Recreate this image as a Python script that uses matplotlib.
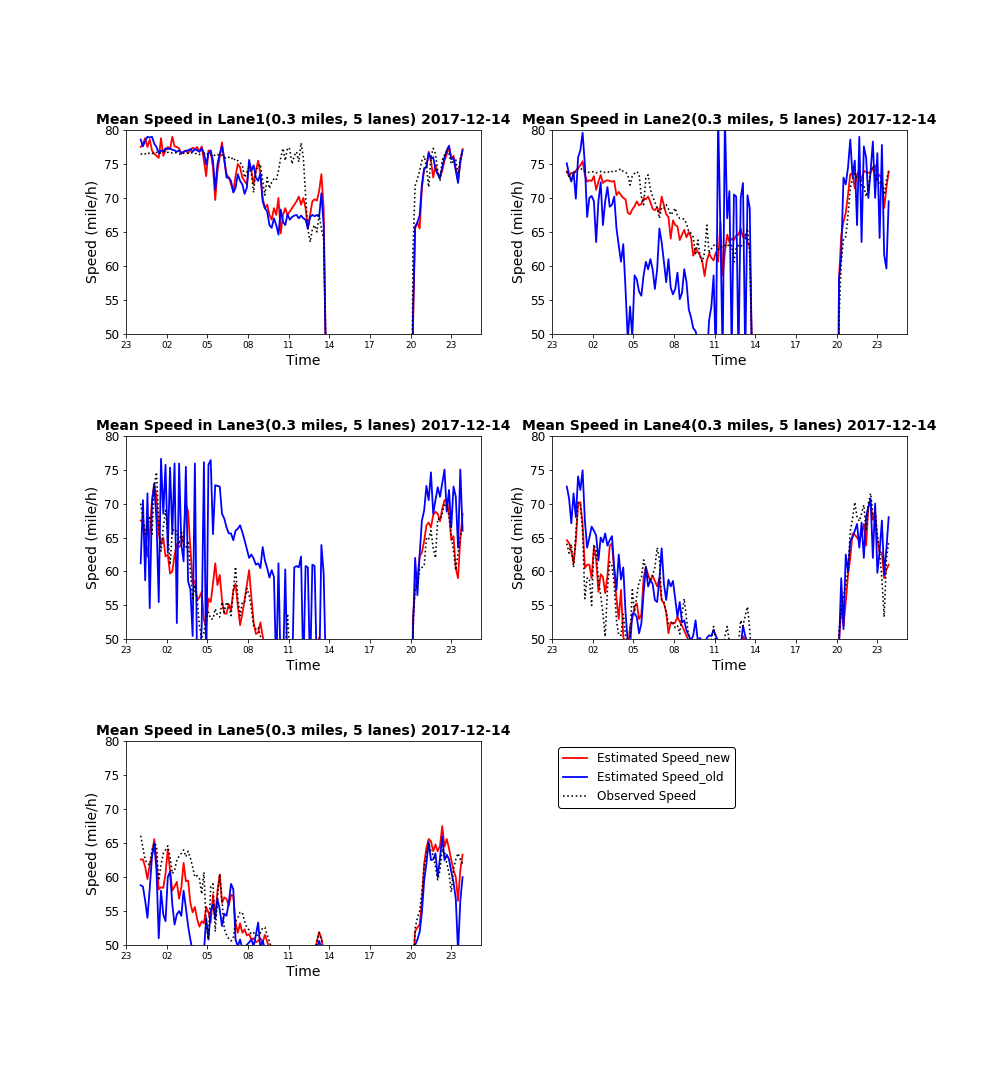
"""
Mean speed per lane on 2017-12-14: estimated (new / old model) vs observed.
Values read off the original figure at 10 minute steps.
"""

import numpy as np
import matplotlib
matplotlib.use("Agg")
import matplotlib.pyplot as plt

OUTPUT_PATH = "out.png"

# time of day in hours: morning block 00:05-13:55, evening block 20:00-23:50
times_am = 5 / 60.0 + np.arange(84) / 6.0
times_pm = 20 + np.arange(24) / 6.0

tick_pos = [-1, 2, 5, 8, 11, 14, 17, 20, 23]
tick_labels = ["23", "02", "05", "08", "11", "14", "17", "20", "23"]

# ---- Lane 1 ----
lane1_new_am = [77.5, 78.0, 78.8, 77.5, 78.6, 77.0, 76.5, 76.2, 75.9, 78.8,
                76.2, 77.0, 77.5, 77.2, 79.0, 77.6, 77.5, 77.3, 76.5, 76.8,
                77.0, 76.6, 77.0, 77.4, 77.2, 77.5, 76.8, 77.6, 75.5, 73.2,
                77.0, 76.8, 74.5, 69.7, 74.0, 76.0, 78.2, 75.5, 73.5, 73.0,
                72.0, 71.0, 73.2, 75.0, 74.5, 73.0, 72.5, 72.0, 75.0, 74.0,
                72.0, 74.0, 75.5, 73.5, 70.0, 68.5, 69.0, 67.5, 66.8, 68.5,
                67.5, 70.0, 64.8, 67.5, 68.5, 67.5, 68.0, 68.5, 69.0, 69.5,
                70.2, 69.0, 70.0, 68.5, 65.5, 67.5, 69.5, 69.8, 69.6, 71.0,
                73.5, 68.5, 46.0, 0.0]
lane1_old_am = [78.6, 77.6, 78.4, 79.0, 78.9, 79.0, 78.0, 77.5, 76.6, 77.0,
                76.8, 77.3, 77.2, 77.3, 77.1, 77.0, 76.8, 77.0, 76.6, 76.8,
                76.9, 77.0, 77.2, 76.8, 77.2, 77.0, 76.8, 77.3, 76.6, 74.9,
                76.5, 77.0, 75.5, 71.2, 75.0, 76.5, 77.6, 75.8, 73.0, 73.0,
                72.5, 70.8, 71.5, 73.5, 72.5, 72.0, 70.6, 71.5, 75.6, 74.0,
                74.8, 73.0, 72.5, 73.6, 69.5, 68.5, 68.0, 66.0, 65.6, 67.0,
                66.0, 64.6, 68.3, 66.5, 66.0, 67.6, 66.8, 67.2, 67.4, 67.5,
                67.0, 67.4, 67.0, 66.8, 65.5, 67.2, 67.5, 67.3, 67.5, 67.2,
                70.7, 66.0, 46.0, 0.0]
lane1_obs_am = [76.4, 76.6, 76.5, 76.4, 76.7, 76.6, 76.5, 76.7, 76.8, 76.6,
                76.8, 76.9, 76.7, 76.8, 76.6, 76.7, 76.6, 76.5, 76.4, 76.6,
                76.5, 76.6, 76.7, 76.6, 76.5, 76.6, 76.4, 76.5, 76.6, 76.4,
                76.5, 76.3, 76.5, 76.2, 76.4, 76.2, 76.3, 76.0, 75.8, 76.0,
                75.7, 76.0, 75.4, 75.5, 75.2, 74.8, 73.0, 73.8, 74.5, 73.5,
                70.8, 74.2, 74.5, 75.0, 72.5, 70.4, 73.0, 71.4, 72.3, 72.8,
                72.6, 74.0, 75.9, 77.3, 75.5, 77.4, 77.2, 75.0, 76.2, 76.8,
                75.3, 78.1, 76.0, 70.4, 65.5, 63.5, 65.4, 66.0, 65.0, 67.5,
                65.5, 64.0, 47.0, 0.0]
lane1_new_pm = [0.0, 50.0, 65.5, 66.4, 65.5, 71.5, 74.2, 74.6, 76.8, 75.5, 73.0, 74.8,
                73.6, 73.2, 74.0, 75.5, 76.4, 77.5, 75.8, 76.2, 74.3, 72.6, 75.2, 77.2]
lane1_old_pm = [0.0, 52.0, 65.8, 66.4, 67.4, 72.0, 74.4, 74.5, 76.6, 75.8, 76.0, 74.2,
                73.5, 72.9, 74.5, 76.0, 77.0, 77.7, 75.7, 75.9, 74.0, 72.2, 75.5, 77.0]
lane1_obs_pm = [0.0, 62.0, 71.8, 72.8, 74.0, 75.5, 76.2, 74.6, 71.6, 76.0, 77.3, 76.5,
                74.0, 72.5, 75.6, 76.3, 76.9, 76.5, 75.0, 75.4, 75.6, 73.5, 75.8, 76.8]

# ---- Lane 2 ----
lane2_new_am = [73.9, 73.2, 73.7, 73.6, 74.0, 74.4, 74.8, 75.4, 73.4, 72.4,
                72.6, 72.5, 73.2, 71.2, 72.4, 73.4, 72.2, 72.5, 72.6, 72.5,
                72.4, 72.5, 70.4, 70.9, 70.4, 70.0, 69.8, 67.8, 67.6, 68.3,
                68.8, 69.5, 68.9, 69.1, 70.0, 69.8, 70.2, 69.4, 68.4, 68.2,
                68.6, 67.8, 70.2, 68.9, 67.6, 67.2, 64.0, 66.7, 66.0, 65.8,
                63.8, 64.6, 65.3, 64.2, 65.0, 64.2, 61.5, 62.6, 62.1, 61.5,
                60.6, 58.5, 60.8, 61.8, 61.2, 60.8, 62.0, 60.6, 66.5, 58.6,
                62.0, 64.6, 63.5, 64.0, 63.8, 64.5, 64.6, 65.5, 64.2, 64.6,
                63.5, 62.8, 47.0, 0.0]
lane2_old_am = [75.1, 73.5, 72.4, 73.8, 69.9, 76.0, 77.0, 79.6, 74.9, 67.2,
                70.0, 70.3, 69.5, 63.5, 69.5, 72.3, 66.0, 69.5, 71.6, 68.7,
                69.0, 70.2, 65.5, 63.0, 60.6, 63.2, 56.6, 49.0, 54.0, 49.5,
                58.6, 58.0, 56.2, 55.6, 58.6, 60.6, 59.5, 61.0, 59.5, 56.6,
                59.5, 65.5, 63.5, 60.6, 57.6, 61.0, 56.8, 55.8, 56.6, 59.0,
                55.1, 56.0, 59.5, 57.6, 53.6, 52.4, 50.8, 50.4, 49.0, 46.5,
                45.0, 44.0, 46.0, 52.0, 54.0, 58.6, 46.0, 82.0, 65.5, 46.0,
                82.0, 67.0, 71.0, 47.0, 70.5, 70.2, 46.0, 70.0, 72.2, 46.0,
                70.4, 68.5, 45.0, 0.0]
lane2_obs_am = [73.9, 73.1, 72.7, 73.5, 74.0, 74.3, 74.4, 74.1, 73.9, 73.7,
                73.8, 73.8, 73.9, 73.7, 73.8, 73.9, 73.7, 73.8, 73.9, 73.7,
                73.9, 73.8, 74.0, 74.1, 74.3, 73.9, 73.8, 73.4, 71.9, 73.2,
                73.6, 73.9, 73.5, 70.2, 69.0, 72.9, 73.4, 71.3, 70.2, 69.4,
                68.5, 67.0, 68.6, 68.5, 69.0, 68.4, 67.5, 67.9, 68.5, 67.3,
                67.0, 66.9, 66.9, 66.2, 65.0, 64.8, 64.2, 61.6, 63.8, 61.5,
                60.6, 62.0, 66.0, 61.8, 62.5, 63.0, 63.2, 62.4, 62.8, 62.7,
                63.0, 63.2, 62.8, 63.0, 60.6, 62.7, 63.0, 62.8, 63.2, 64.0,
                65.5, 61.6, 47.0, 0.0]
lane2_new_pm = [0.0, 58.0, 64.5, 66.5, 67.8, 70.5, 73.5, 73.6, 71.4, 73.5, 74.0, 72.5,
                74.0, 73.8, 73.7, 73.8, 74.3, 74.8, 73.0, 73.4, 72.8, 68.5, 71.5, 73.9]
lane2_old_pm = [0.0, 58.0, 61.6, 73.0, 72.0, 74.5, 78.6, 73.2, 75.5, 66.0, 79.0, 63.5,
                77.6, 76.0, 70.0, 74.0, 78.3, 70.0, 76.6, 64.1, 77.8, 61.6, 59.6, 69.5]
lane2_obs_pm = [0.0, 52.0, 60.5, 64.0, 64.3, 67.5, 71.5, 72.8, 73.6, 72.8, 73.0, 71.8,
                71.8, 70.2, 71.5, 73.8, 74.7, 73.3, 72.6, 72.0, 72.5, 70.5, 72.6, 73.9]

# ---- Lane 3 ----
lane3_new_am = [67.5, 67.3, 65.1, 62.2, 65.5, 70.5, 73.0, 71.0, 65.5, 64.0,
                65.0, 62.2, 62.5, 59.7, 60.0, 62.4, 64.0, 63.6, 64.0, 65.2,
                70.0, 68.8, 63.5, 58.2, 58.6, 55.8, 56.2, 57.0, 52.8, 52.0,
                56.0, 55.5, 58.2, 61.2, 58.0, 59.5, 55.8, 53.8, 53.8, 55.2,
                54.3, 57.2, 58.2, 55.0, 52.1, 53.8, 55.8, 58.0, 60.2, 56.2,
                52.5, 50.8, 51.0, 52.5, 50.5, 49.0, 48.0, 47.5, 47.0, 47.5,
                47.0, 46.5, 47.0, 46.5, 47.0, 47.5, 47.0, 46.5, 47.0, 47.0,
                46.5, 47.0, 47.0, 46.5, 47.0, 47.5, 47.0, 47.5, 48.5, 50.3,
                48.5, 47.0, 45.0, 0.0]
lane3_old_am = [61.2, 70.5, 58.7, 71.5, 54.6, 70.0, 72.9, 67.5, 55.5, 76.6,
                68.5, 75.7, 62.8, 75.3, 65.5, 75.9, 52.4, 75.9, 64.0, 61.5,
                75.4, 58.5, 57.4, 50.5, 75.9, 45.0, 45.0, 51.8, 76.1, 45.0,
                75.7, 76.4, 65.5, 72.7, 72.6, 72.5, 68.5, 67.8, 66.5, 65.6,
                65.6, 64.6, 66.0, 66.3, 66.8, 65.8, 64.6, 63.3, 62.0, 62.5,
                61.9, 61.0, 61.2, 60.5, 63.6, 61.6, 60.5, 59.1, 60.2, 59.2,
                45.0, 61.2, 45.0, 45.0, 60.3, 45.0, 44.0, 44.0, 60.6, 60.8,
                60.6, 62.2, 45.0, 60.8, 60.6, 45.0, 61.0, 60.8, 45.0, 44.0,
                63.9, 59.7, 45.0, 0.0]
lane3_obs_am = [70.0, 68.0, 65.5, 67.0, 68.2, 65.5, 72.5, 74.6, 66.8, 63.0,
                66.5, 69.0, 65.5, 61.0, 66.0, 66.3, 65.8, 64.0, 66.0, 64.0,
                63.5, 64.5, 60.0, 56.0, 58.0, 55.8, 52.0, 50.3, 51.0, 53.2,
                54.0, 53.0, 53.0, 54.5, 53.5, 53.3, 55.5, 54.0, 55.5, 55.0,
                53.5, 57.0, 60.7, 56.0, 53.5, 55.5, 55.5, 57.5, 56.5, 54.5,
                52.0, 51.5, 51.8, 50.5, 49.5, 48.0, 47.5, 47.0, 46.5, 47.0,
                47.0, 46.5, 47.0, 47.5, 48.5, 53.8, 47.5, 46.5, 47.0, 46.5,
                47.0, 46.5, 47.0, 47.5, 47.0, 46.5, 47.0, 47.5, 48.0, 49.5,
                48.5, 47.0, 45.0, 0.0]
lane3_new_pm = [0.0, 53.0, 57.5, 59.2, 62.2, 62.8, 64.5, 66.8, 67.2, 66.5, 68.3, 68.8,
                68.5, 67.4, 69.2, 70.5, 70.5, 68.6, 64.6, 65.2, 60.5, 59.0, 64.8, 68.5]
lane3_old_pm = [0.0, 50.5, 62.0, 56.5, 62.5, 67.5, 69.0, 72.6, 70.5, 74.6, 68.5, 70.5,
                72.4, 71.0, 73.0, 75.0, 68.8, 72.0, 66.5, 72.5, 71.0, 63.5, 75.0, 66.0]
lane3_obs_pm = [0.0, 52.0, 57.5, 58.0, 60.5, 60.6, 60.8, 65.0, 64.8, 66.0, 63.5, 62.0,
                67.8, 67.6, 68.5, 70.0, 69.6, 68.2, 65.3, 63.0, 60.2, 62.7, 65.0, 66.7]

# ---- Lane 4 ----
lane4_new_am = [64.6, 64.2, 63.0, 61.2, 64.5, 70.0, 70.2, 67.0, 60.5, 61.0,
                61.0, 59.0, 63.6, 61.8, 57.0, 59.6, 59.2, 56.8, 59.4, 63.8,
                64.1, 60.0, 56.0, 53.0, 57.3, 50.4, 49.0, 48.5, 51.9, 53.0,
                54.8, 55.3, 53.0, 53.6, 59.0, 60.7, 59.5, 58.6, 59.4, 58.6,
                57.8, 59.0, 55.8, 55.3, 54.0, 50.9, 52.5, 52.3, 52.5, 53.3,
                52.6, 52.0, 51.3, 50.5, 49.8, 49.0, 48.5, 48.0, 48.5, 48.0,
                47.5, 48.0, 48.5, 48.0, 47.5, 48.0, 48.5, 48.0, 47.5, 48.0,
                48.5, 48.0, 47.5, 48.0, 48.5, 48.0, 48.5, 49.0, 50.5, 49.8,
                49.5, 49.0, 45.0, 0.0]
lane4_old_am = [72.5, 70.8, 67.1, 71.5, 68.0, 74.0, 72.0, 74.9, 67.5, 63.5,
                65.0, 66.6, 66.0, 65.3, 61.6, 65.0, 64.3, 65.6, 63.8, 64.6,
                65.2, 60.6, 57.3, 62.5, 58.8, 60.6, 54.0, 49.5, 49.0, 53.8,
                53.8, 53.3, 50.9, 52.3, 56.8, 60.7, 57.8, 58.7, 58.2, 55.8,
                55.5, 58.9, 63.4, 58.2, 55.8, 58.8, 57.8, 58.6, 56.0, 53.3,
                55.5, 52.5, 52.8, 51.3, 50.6, 49.8, 50.6, 52.8, 49.8, 50.2,
                49.5, 49.5, 50.2, 50.6, 50.5, 51.4, 50.5, 49.8, 49.5, 49.0,
                49.5, 49.0, 49.5, 49.0, 49.5, 49.0, 49.5, 49.0, 52.0, 50.5,
                49.5, 49.0, 45.0, 0.0]
lane4_obs_am = [64.1, 62.7, 64.0, 60.6, 65.5, 70.2, 69.8, 66.0, 56.0, 59.0,
                59.0, 55.0, 64.0, 63.0, 58.8, 56.5, 53.8, 50.4, 57.5, 61.4,
                60.8, 58.0, 52.8, 50.6, 50.6, 53.7, 50.6, 49.0, 50.6, 57.3,
                54.0, 56.5, 58.5, 59.0, 61.7, 60.4, 59.0, 58.8, 59.5, 60.6,
                63.5, 61.8, 55.8, 55.5, 54.0, 52.3, 52.3, 52.7, 51.7, 52.0,
                50.8, 53.6, 56.0, 53.0, 50.3, 49.0, 48.5, 48.0, 48.5, 48.0,
                48.5, 48.0, 48.5, 49.0, 50.0, 51.9, 49.5, 48.5, 48.0, 48.5,
                50.5, 51.9, 49.5, 48.5, 48.0, 48.5, 49.5, 52.8, 52.0, 53.5,
                54.8, 51.5, 45.0, 0.0]
lane4_new_pm = [0.0, 49.5, 54.8, 52.0, 55.5, 59.5, 62.0, 65.6, 65.4, 65.0, 64.6, 65.5,
                67.0, 63.8, 69.5, 70.0, 67.6, 68.8, 64.6, 62.8, 62.8, 59.0, 60.3, 61.0]
lane4_old_pm = [0.0, 49.0, 59.0, 51.5, 62.5, 60.0, 64.5, 65.0, 66.0, 67.0, 63.5, 67.2,
                62.0, 68.0, 69.5, 70.7, 62.0, 70.0, 59.8, 63.0, 67.5, 59.5, 63.4, 68.0]
lane4_obs_pm = [0.0, 51.0, 54.5, 56.3, 58.0, 60.3, 66.0, 67.8, 70.2, 68.0, 67.4, 68.6,
                69.8, 66.0, 70.0, 71.5, 68.5, 68.8, 65.4, 62.8, 58.8, 53.3, 61.8, 64.4]

# ---- Lane 5 ----
lane5_new_am = [62.6, 62.6, 61.5, 59.7, 61.8, 63.2, 65.6, 62.5, 58.2, 58.5,
                58.4, 60.5, 64.1, 61.0, 58.0, 58.6, 59.3, 56.8, 58.5, 62.1,
                59.4, 59.5, 56.2, 54.8, 55.6, 53.8, 52.7, 53.5, 53.2, 55.6,
                54.8, 53.3, 57.4, 54.2, 58.0, 60.4, 56.2, 57.0, 56.8, 55.8,
                57.4, 57.2, 53.3, 51.8, 53.2, 51.8, 52.3, 51.4, 51.6, 50.8,
                51.0, 50.4, 50.6, 51.0, 50.4, 51.5, 50.5, 49.5, 49.0, 48.5,
                48.0, 48.5, 48.0, 47.5, 48.0, 48.5, 48.0, 47.5, 48.0, 48.5,
                48.0, 47.5, 48.0, 48.5, 48.0, 48.5, 48.0, 49.0, 50.5, 51.9,
                51.0, 49.0, 45.0, 0.0]
lane5_old_am = [58.8, 58.6, 56.5, 54.0, 58.3, 63.0, 65.0, 61.0, 51.0, 58.0,
                54.5, 53.5, 60.0, 60.8, 56.0, 53.0, 54.5, 55.0, 54.3, 58.0,
                55.5, 52.8, 50.8, 49.0, 48.5, 48.0, 48.5, 48.0, 49.0, 54.0,
                50.8, 55.0, 56.0, 53.8, 56.8, 55.2, 52.8, 54.6, 54.3, 56.3,
                59.0, 58.2, 50.8, 49.8, 50.8, 49.5, 49.8, 50.0, 50.4, 50.8,
                49.8, 51.5, 53.3, 49.5, 50.6, 49.5, 49.0, 48.5, 48.0, 48.5,
                48.0, 47.5, 48.0, 48.5, 48.0, 47.5, 48.0, 48.5, 48.0, 47.5,
                48.0, 48.5, 48.0, 47.5, 48.0, 48.5, 48.0, 48.5, 49.5, 50.6,
                49.5, 48.5, 45.0, 0.0]
lane5_obs_am = [66.1, 64.3, 62.5, 62.0, 61.8, 64.0, 65.0, 64.6, 59.5, 61.8,
                63.5, 64.0, 64.6, 63.0, 60.5, 61.0, 62.5, 63.1, 63.5, 64.0,
                63.0, 63.8, 62.8, 61.5, 60.0, 60.2, 59.8, 57.5, 60.7, 53.2,
                50.8, 58.5, 59.0, 52.0, 57.0, 60.4, 56.5, 52.4, 51.5, 50.9,
                50.6, 51.0, 53.5, 54.0, 54.8, 54.8, 53.5, 52.6, 52.2, 51.6,
                51.8, 51.5, 51.4, 51.8, 52.5, 52.6, 51.5, 50.5, 49.5, 49.0,
                48.5, 48.0, 48.5, 48.0, 47.5, 48.0, 48.5, 48.0, 48.5, 48.0,
                47.5, 48.0, 48.5, 48.0, 48.5, 49.0, 48.5, 49.0, 50.5, 51.8,
                50.8, 49.0, 45.0, 0.0]
lane5_new_pm = [0.0, 46.0, 52.0, 52.6, 53.0, 56.5, 62.0, 64.3, 65.6, 65.3, 63.8, 64.8,
                63.8, 64.6, 67.5, 64.5, 65.6, 64.2, 62.5, 61.0, 60.0, 56.5, 61.0, 63.3]
lane5_old_pm = [0.0, 45.0, 50.0, 50.8, 51.9, 54.8, 59.5, 62.0, 65.2, 62.5, 62.6, 63.5,
                60.0, 62.8, 66.0, 62.5, 63.3, 62.6, 60.8, 59.2, 56.8, 49.0, 56.5, 60.0]
lane5_obs_pm = [0.0, 46.0, 52.5, 54.0, 55.0, 57.8, 61.5, 63.4, 65.0, 63.8, 63.2, 61.5,
                59.6, 61.0, 64.2, 63.8, 62.0, 60.6, 57.8, 61.3, 62.6, 63.5, 62.6, 62.0]

lanes = [
    (lane1_new_am + lane1_new_pm, lane1_old_am + lane1_old_pm, lane1_obs_am + lane1_obs_pm),
    (lane2_new_am + lane2_new_pm, lane2_old_am + lane2_old_pm, lane2_obs_am + lane2_obs_pm),
    (lane3_new_am + lane3_new_pm, lane3_old_am + lane3_old_pm, lane3_obs_am + lane3_obs_pm),
    (lane4_new_am + lane4_new_pm, lane4_old_am + lane4_old_pm, lane4_obs_am + lane4_obs_pm),
    (lane5_new_am + lane5_new_pm, lane5_old_am + lane5_old_pm, lane5_obs_am + lane5_obs_pm),
]


def main():
    times = np.concatenate([times_am, times_pm])

    fig, axes = plt.subplots(3, 2, figsize=(14, 15), dpi=72)
    fig.subplots_adjust(left=0.125, right=0.9, top=0.8796, bottom=0.125,
                        hspace=0.5, wspace=0.2)
    axes = axes.ravel()

    for k, (new, old, obs) in enumerate(lanes):
        ax = axes[k]
        ax.plot(times, new, color="red", linewidth=1.8, label="Estimated Speed_new")
        ax.plot(times, old, color="blue", linewidth=1.8, label="Estimated Speed_old")
        ax.plot(times, obs, color="black", linestyle=":", linewidth=1.6,
                label="Observed Speed")
        ax.set_xlim(-1, 25.2)
        ax.set_ylim(50, 80)
        ax.set_xticks(tick_pos)
        ax.set_xticklabels(tick_labels, fontsize=9)
        ax.tick_params(axis="y", labelsize=12)
        ax.set_xlabel("Time", fontsize=14)
        ax.set_ylabel("Speed (mile/h)", fontsize=14)
        ax.set_title("Mean Speed in Lane%d(0.3 miles, 5 lanes) 2017-12-14" % (k + 1),
                     fontsize=14, fontweight="bold")

    # last slot only holds the legend
    handles, labels = axes[4].get_legend_handles_labels()
    axes[5].axis("off")
    leg = axes[5].legend(handles, labels, loc="upper left", fontsize=12,
                         fancybox=True, framealpha=1)
    leg.get_frame().set_edgecolor("black")

    fig.savefig(OUTPUT_PATH, dpi=72)
    plt.close(fig)


if __name__ == "__main__":
    main()
